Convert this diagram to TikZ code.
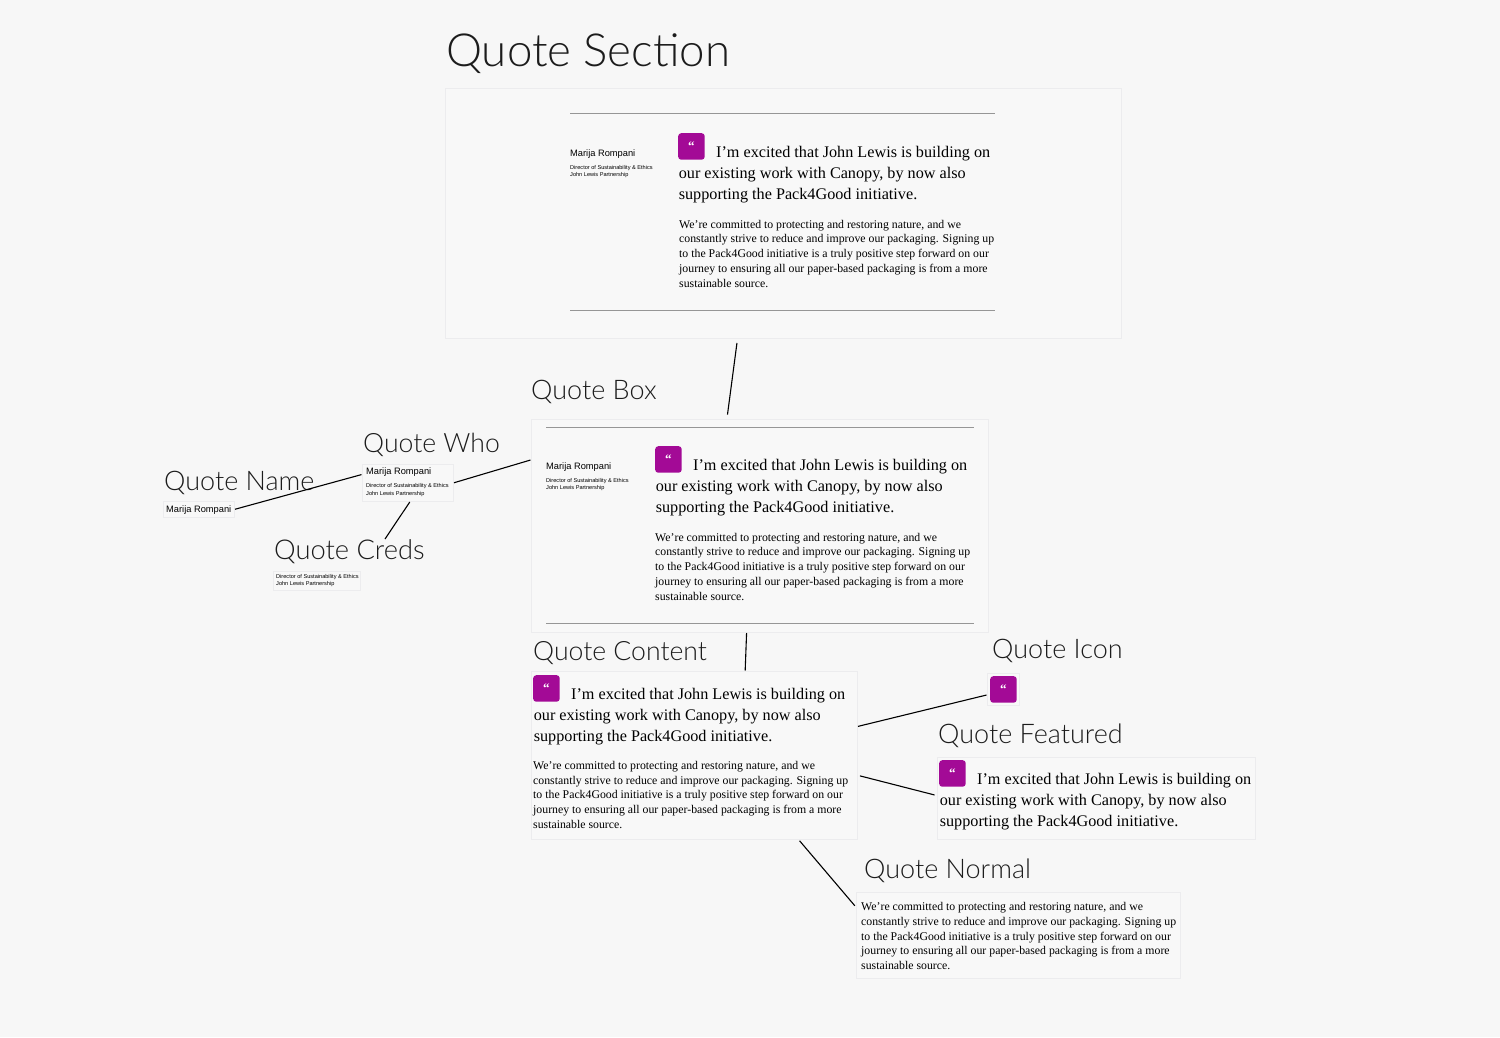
\documentclass[tikz,border=0pt]{standalone}
\usepackage{fontspec}
\setmainfont{Liberation Serif}
\newfontfamily\titlefont{Lato Light}
\newfontfamily\whofont{Liberation Sans}
\definecolor{pagebg}{RGB}{247,247,247}
\definecolor{panelbg}{RGB}{248,248,248}
\definecolor{edgegray}{RGB}{236,236,238}
\definecolor{rulegray}{RGB}{150,150,150}
\definecolor{iconpurple}{RGB}{163,10,150}
\definecolor{inkdark}{RGB}{28,28,28}
\tikzset{
  title/.style={anchor=base west,inner sep=0pt,text=inkdark,font=\titlefont\fontsize{#1}{#1}\selectfont},
  panel/.style={draw=edgegray,line width=1.5pt,fill=panelbg,anchor=north west,inner sep=0pt},
  wire/.style={black,line width=1.1pt,shorten <=#1,shorten >=#1},
  wire/.default=4pt,
  iconbox/.style={fill=iconpurple,rounded corners=3pt,minimum size=26.5pt,inner sep=0pt,text=white,font=\fontsize{13}{13}\selectfont\bfseries},
  featured/.style={inner sep=0pt,text=black,font=\fontsize{16.2}{21.3}\selectfont},
  normal/.style={inner sep=0pt,text=black,align=left,anchor=north west,font=\fontsize{11.8}{14.8}\selectfont},
  whoname/.style={anchor=base west,inner sep=0pt,text=black,font=\whofont\fontsize{9.3}{9.3}\selectfont},
  whocreds/.style={anchor=north west,inner sep=0pt,align=left,text=black,font=\whofont\fontsize{5.6}{7.4}\selectfont},
}
% #1 name, (#2,#3) top left of the icon
\newcommand{\featuredtext}[3]{%
  \node[iconbox,anchor=north west] (#1icon) at (#2,#3) {“};
  \node[featured,anchor=base west] (#1a) at (#2+38,#3+24.2) {I’m excited that John Lewis is building on};
  \node[featured,anchor=north west,align=left] (#1b) at (#2+0.6,#3+34.1) {our existing work with Canopy, by now also\\supporting the Pack4Good initiative.};
}
% #1 name, (#2,#3) first baseline
\newcommand{\normaltext}[3]{%
  \node[normal] (#1) at (#2,#3-8.3) {We’re committed to protecting and restoring nature, and we\\constantly strive to reduce and improve our packaging. Signing up\\to the Pack4Good initiative is a truly positive step forward on our\\journey to ensuring all our paper-based packaging is from a more\\sustainable source.};
}
\newcommand{\nametext}[3]{\node[whoname] (#1) at (#2,#3) {Marija Rompani};}
\newcommand{\credstext}[3]{\node[whocreds] (#1) at (#2,#3) {Director of Sustainability \& Ethics\\John Lewis Partnership};}

\begin{document}
\begin{tikzpicture}[x=1pt,y=-1pt]
    \fill[pagebg] (0,0) rectangle (1500,1037);
    \useasboundingbox (0,0) rectangle (1500,1037);
    % panels
    \node[panel,minimum width=676pt,minimum height=250pt] (section) at (444.5,87.5) {};
    \node[panel,minimum width=457pt,minimum height=213pt] (box) at (530.5,418.5) {};
    \node[panel,minimum width=91pt,minimum height=37pt] (who) at (361.5,463.5) {};
    \node[panel,minimum width=71pt,minimum height=16pt] (name) at (162.5,500.5) {};
    \node[panel,minimum width=87pt,minimum height=19pt] (creds) at (272.5,570.5) {};
    \node[panel,minimum width=326pt,minimum height=168pt] (content) at (530.5,670.5) {};
    \node[panel,minimum width=32pt,minimum height=32pt] (iconpanel) at (986.5,672.5) {};
    \node[panel,minimum width=318pt,minimum height=82pt] (feature) at (936.5,756.5) {};
    \node[panel,minimum width=324pt,minimum height=86pt] (plain) at (855.5,891.5) {};
    % titles
    \node[title=45.6] (tsection) at (446,66.5) {Quote Section};
    \node[title=27] (tbox) at (531,399.5) {Quote Box};
    \node[title=26.6] (twho) at (363,452.5) {Quote Who};
    \node[title=27] (tname) at (164,490.5) {Quote Name};
    \node[title=27.3] (tcreds) at (274,559.5) {Quote Creds};
    \node[title=26.6] (tcontent) at (533,660.5) {Quote Content};
    \node[title=27] (ticon) at (992,658.5) {Quote Icon};
    \node[title=27] (tfeature) at (938,743.5) {Quote Featured};
    \node[title=27] (tplain) at (864,878.5) {Quote Normal};
    % rules
    \foreach \y in {113,310} \draw[rulegray] (570,\y) -- (995,\y);
    \foreach \y in {427,623} \draw[rulegray] (546,\y) -- (974,\y);
    % text
    \featuredtext{sa}{678}{133}
    \normaltext{sn}{679}{228}
    \nametext{sw}{570}{156}
    \credstext{sc}{570}{165}
    \featuredtext{ba}{655}{446}
    \normaltext{bn}{655}{541}
    \nametext{bw}{546}{469}
    \credstext{bc}{546}{478}
    \nametext{ww}{366}{474.5}
    \credstext{wc}{366}{483.5}
    \nametext{nw}{166}{512.7}
    \credstext{cc}{276}{574}
    \featuredtext{ca}{533}{675}
    \normaltext{cn}{533}{769.3}
    \node[iconbox,anchor=north west] (solo) at (990,676) {“};
    \featuredtext{fa}{939}{760}
    \normaltext{pn}{861}{910.3}
    \coordinate (credsend) at (385,539);
    % links
    \draw[wire] (section.250.1) -- (box.107.6);
    \draw[wire=0pt] (name.east) -- (who.170.6);
    \draw[wire=0pt] (who.east) -- (box.164.4);
    \draw[wire=0pt] (who.276) -- (credsend);
    \draw[wire=0pt] (box.263.4) -- (content.59.8);
    \draw[wire=0pt] (content.10.3) -- (iconpanel.199);
    \draw[wire=2pt] (content.-7.1) -- (feature.179.4);
    \draw[wire=1pt] (content.-39.6) -- (plain.170.5);
  \end{tikzpicture}
\end{document}
